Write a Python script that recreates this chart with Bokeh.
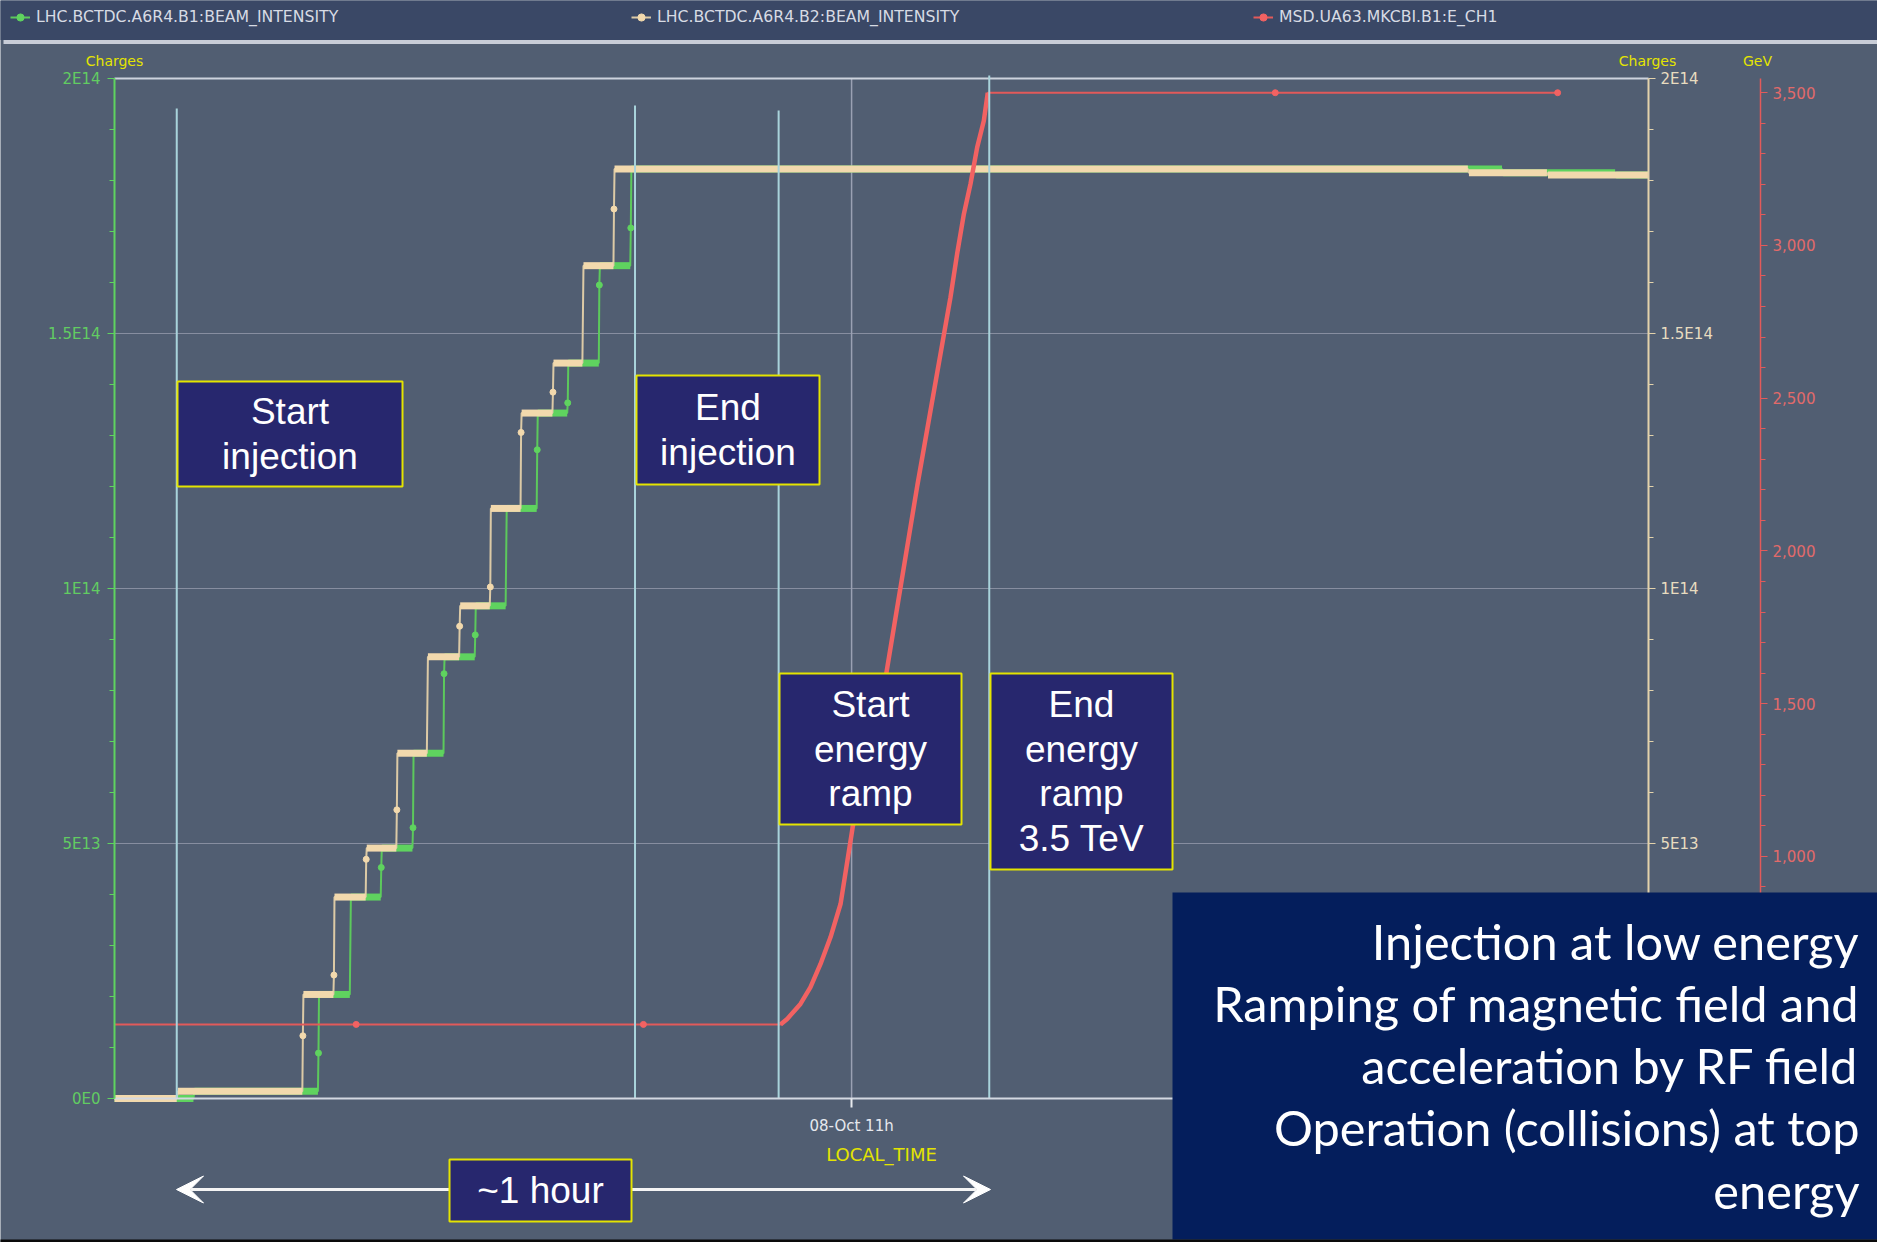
from bokeh.plotting import figure
from bokeh.models import (Range1d, FixedTicker, NumeralTickFormatter, LinearAxis,
                          BoxAnnotation, Label, Arrow, VeeHead, Legend, LegendItem)
from bokeh.embed import file_html
from bokeh.resources import INLINE

# ---------------- data (time = minutes after 08-Oct 10:00, local time) ----------------
window_start, window_end = 5.65, 118.76          # visible time window
b2_jump_times = [10.24, 19.50, 21.79, 24.17, 26.43, 28.68, 31.06, 33.32, 35.59, 37.94, 40.15, 42.44, 105.44, 111.27]
b1_jump_times = [11.47, 20.65, 23.00, 25.28, 27.62, 29.91, 32.21, 34.49, 36.78, 39.03, 41.36, 43.68, 107.96, 116.30]
beam_levels_e12 = [0.0, 1.4, 20.4, 39.5, 49.1, 67.7, 86.6, 96.6, 115.7, 134.4, 144.2, 163.3, 182.25, 181.5, 181.1]
b2_transit_e12 = [None, 12.3, 24.2, 46.9, 56.6, None, 92.6, 100.3, 130.6, 138.5, None, 174.4, None, None]
b1_transit_e12 = [None, 8.9, None, 45.3, 53.1, 83.3, 90.9, None, 127.2, 136.4, 159.5, 170.7, None, None]

energy_time = [5.65, 23.47, 44.65, 54.76, 55.25, 56.23, 56.97, 57.71, 58.45, 59.19, 60.09, 62.56,
               64.85, 67.29, 67.78, 68.28, 68.77, 69.26, 69.75, 70.04, 91.24, 112.06]
energy_gev = [450, 450, 450, 450, 468, 517, 572, 648, 736, 845, 1098, 1599,
              2215, 2830, 2972, 3103, 3202, 3321, 3408, 3500, 3500, 3500]

event_times = [10.24, 44.03, 54.62, 70.15]   # start inj., end inj., start ramp, end ramp

x_ticks = [60]
x_tick_labels = ["08-Oct 11h"]
charge_ticks = [0, 50000000000000, 100000000000000, 150000000000000, 200000000000000]
charge_tick_labels = ["0E0", "5E13", "1E14", "1.5E14", "2E14"]
gev_ticks = [500, 1000, 1500, 2000, 2500, 3000, 3500]
charge_max = 2e14
gev_min, gev_max = 207.5, 3546.5

legend_labels = ["LHC.BCTDC.A6R4.B1:BEAM_INTENSITY",
                 "LHC.BCTDC.A6R4.B2:BEAM_INTENSITY",
                 "MSD.UA63.MKCBI.B1:E_CH1"]
axis_titles = ["Charges", "Charges", "GeV"]
phase_texts = [["Start", "injection"], ["End", "injection"],
               ["Start", "energy", "ramp"], ["End", "energy", "ramp", "3.5 TeV"]]
duration_text = "~1 hour"
summary_lines = ["Injection at low energy", "Ramping of magnetic field and",
                 "acceleration by RF field", "Operation (collisions) at top", "energy"]

# ---------------- layout (pixels of the 1877x1242 canvas) ----------------
W, H = 1877, 1242
PL, PR, PT, PB = 114, 1648, 78, 1098      # plot window on the canvas
kx = (window_end - window_start) / (PR - PL)
ky = charge_max / (PB - PT)
kg = (gev_max - gev_min) / (PB - PT)
def dx(X): return window_start + (X - PL) * kx
def dy(Y): return (PB - Y) * ky

BG = "#515e72"
NAVY_BAR = "#3a4866"
GREEN = "#5fd35f"
TAN = "#f2d9ad"
RED = "#e25a5a"
RED2 = "#f26262"
CYAN = "#a9d3db"
YELLOW = "#e4e400"
BOXFILL = "#27276e"
BIGFILL = "#041e5c"
SMALLFONT = "DejaVu Sans"

p = figure(width=W, height=H, output_backend="svg", toolbar_location=None, title=None,
           x_range=Range1d(dx(0), dx(W)), y_range=Range1d(dy(H), dy(0)),
           min_border=0, background_fill_color=BG, border_fill_color=BG,
           outline_line_color=None)
p.extra_y_ranges = {"gev": Range1d(gev_min - (H - PB) * kg, gev_max + PT * kg)}
p.grid.visible = False

# ---------------- grid and frame lines ----------------
inner = charge_ticks[1:-1]
p.segment(x0=[window_start] * len(inner), y0=inner, x1=[window_end] * len(inner), y1=inner,
          color="#878ea0", line_width=1)
p.segment(x0=x_ticks, y0=[0] * len(x_ticks), x1=x_ticks, y1=[charge_max] * len(x_ticks),
          color="#9aa1b3", line_width=1.5)
p.segment(x0=[window_start], y0=[charge_max], x1=[window_end], y1=[charge_max],
          color="#cdd3dd", line_width=2)

# ---------------- axes ----------------
xa = p.xaxis[0]
xa.fixed_location = 0
xa.bounds = (window_start, window_end)
xa.ticker = FixedTicker(ticks=x_ticks, minor_ticks=[])
xa.major_label_overrides = dict(zip(x_ticks, x_tick_labels))
xa.axis_line_color = "#d3d8e1"
xa.axis_line_width = 2
xa.major_tick_line_color = "#e8eaee"
xa.major_tick_line_width = 2
xa.major_tick_out = 9
xa.major_tick_in = 0
xa.major_label_standoff = 9
xa.major_label_text_color = "#e6e8ee"
xa.major_label_text_font = SMALLFONT
xa.major_label_text_font_size = "15px"
xa.axis_label = "LOCAL_TIME"
xa.axis_label_text_color = YELLOW
xa.axis_label_text_font = SMALLFONT
xa.axis_label_text_font_size = "18px"
xa.axis_label_text_font_style = "normal"
xa.axis_label_standoff = 6

charge_minor = [k * 1e13 for k in range(1, 20) if k % 5]

def style_charge_axis(ax, col, txtcol):
    ax.bounds = (0, charge_max)
    ax.ticker = FixedTicker(ticks=charge_ticks, minor_ticks=charge_minor)
    ax.major_label_overrides = dict(zip(charge_ticks, charge_tick_labels))
    ax.axis_line_color = col
    ax.axis_line_width = 2
    ax.major_tick_line_color = col
    ax.minor_tick_line_color = col
    ax.major_tick_in = 0
    ax.minor_tick_in = 0
    ax.major_tick_out = 7
    ax.minor_tick_out = 5
    ax.major_label_text_color = txtcol
    ax.major_label_text_font = SMALLFONT
    ax.major_label_text_font_size = "15px"

ya = p.yaxis[0]
ya.fixed_location = window_start
style_charge_axis(ya, GREEN, "#62cc62")
ya.major_label_standoff = 7

ax_c = LinearAxis(fixed_location=window_end)
style_charge_axis(ax_c, "#e3d2ab", "#e8dcc0")
ax_c.major_label_standoff = 5
p.add_layout(ax_c, "right")

gev_minor = [v for v in range(300, 3600, 100) if v % 500]
ax_g = LinearAxis(y_range_name="gev", fixed_location=dx(1760), bounds=(gev_min, gev_max),
                  ticker=FixedTicker(ticks=gev_ticks, minor_ticks=gev_minor),
                  formatter=NumeralTickFormatter(format="0,0"))
ax_g.axis_line_color = RED
ax_g.axis_line_width = 1.5
ax_g.major_tick_line_color = RED
ax_g.minor_tick_line_color = RED
ax_g.major_tick_in = 0
ax_g.minor_tick_in = 0
ax_g.major_tick_out = 7
ax_g.minor_tick_out = 5
ax_g.major_label_standoff = 5
ax_g.major_label_text_color = "#e26a6a"
ax_g.major_label_text_font = SMALLFONT
ax_g.major_label_text_font_size = "15px"
p.add_layout(ax_g, "right")

# ---------------- beam intensity series ----------------
JUMP = 0.08
def build_steps(jumps, levels_e12, transit_e12):
    lv = [v * 1e12 for v in levels_e12]
    xs, ys = [window_start], [lv[0]]
    tx, ty = [], []
    for k, t in enumerate(jumps):
        xs.append(t); ys.append(lv[k])
        if transit_e12[k] is not None:
            xs.append(t + JUMP / 2); ys.append(transit_e12[k] * 1e12)
            tx.append(t + JUMP / 2); ty.append(transit_e12[k] * 1e12)
        xs.append(t + JUMP); ys.append(lv[k + 1])
    xs.append(window_end); ys.append(lv[-1])
    bx0 = [window_start] + [t + JUMP for t in jumps]
    bx1 = list(jumps) + [window_end]
    return xs, ys, tx, ty, bx0, bx1, lv

series = {}
for name, jumps, trans, col, thin in [("b1", b1_jump_times, b1_transit_e12, GREEN, "#5cc95c"),
                                      ("b2", b2_jump_times, b2_transit_e12, TAN, "#dccaa6")]:
    xs, ys, tx, ty, bx0, bx1, lv = build_steps(jumps, beam_levels_e12, trans)
    r_line = p.line(xs, ys, line_width=2, color=thin)
    p.segment(x0=bx0, y0=lv, x1=bx1, y1=lv, line_width=7, color=col)
    r_dot = p.scatter(tx, ty, size=6, color=col)
    series[name] = [r_line, r_dot]

# ---------------- energy series ----------------
r_e = p.line(energy_time, energy_gev, y_range_name="gev", line_width=2, color=RED)
ramp_t = [t for t in energy_time if event_times[2] <= t <= event_times[3]]
ramp_g = [g for t, g in zip(energy_time, energy_gev) if event_times[2] <= t <= event_times[3]]
p.line(ramp_t, ramp_g, y_range_name="gev", line_width=4.5, color=RED2)
flat_t = [t for t in energy_time[1:] if not (event_times[2] <= t <= event_times[3])]
flat_g = [g for t, g in zip(energy_time[1:], energy_gev[1:]) if not (event_times[2] <= t <= event_times[3])]
r_edot = p.scatter(flat_t, flat_g, y_range_name="gev", size=6, color=RED2)

# ---------------- event marker lines ----------------
marker_top_ref = [108, 105, 110, 75]
p.segment(x0=event_times, y0=[0] * 4, x1=event_times, y1=[dy(Y) for Y in marker_top_ref],
          color=CYAN, line_width=2)

# ---------------- top legend bar ----------------
p.add_layout(BoxAnnotation(left=dx(-20), right=dx(W + 20), top=dy(-20), bottom=dy(39.5),
                           fill_color=NAVY_BAR, fill_alpha=1, line_alpha=0))
p.add_layout(BoxAnnotation(left=dx(3), right=dx(W + 20), top=dy(39.5), bottom=dy(43.5),
                           fill_color="#c8cdd7", fill_alpha=1, line_alpha=0))

legend_x_ref = [10, 631, 1253]
legend_rends = [series["b1"], series["b2"], [r_e, r_edot]]
LH = 18
for lab, rends, X in zip(legend_labels, legend_rends, legend_x_ref):
    lg = Legend(items=[LegendItem(label=lab, renderers=rends)],
                location=(X, H - (17 + LH / 2)),
                orientation="horizontal", background_fill_alpha=0, border_line_alpha=0,
                padding=0, margin=0, spacing=0, glyph_width=20, glyph_height=LH,
                label_height=LH, label_standoff=6, label_text_color="#d7dbe4",
                label_text_font=SMALLFONT, label_text_font_size="15.7px")
    p.add_layout(lg)

# axis titles
for txt, X in zip(axis_titles, [114, 1647, 1757]):
    p.add_layout(Label(x=dx(X), y=dy(60), text=txt, text_align="center", text_baseline="middle",
                       text_color=YELLOW, text_font=SMALLFONT, text_font_size="14px"))

# ---------------- annotation boxes ----------------
phase_boxes_ref = [(177, 402, 381, 486), (636, 819, 375, 484), (779, 961, 673, 824), (990, 1172, 673, 869)]
LINE_SP = 44.5
def text_box(box, lines):
    l, r, t, b = box
    p.add_layout(BoxAnnotation(left=dx(l), right=dx(r), top=dy(t), bottom=dy(b),
                               fill_color=BOXFILL, fill_alpha=1, line_color=YELLOW,
                               line_alpha=1, line_width=2))
    cxm = (l + r) / 2
    cym = (t + b) / 2
    n = len(lines)
    for i, s in enumerate(lines):
        yc = cym + (i - (n - 1) / 2) * LINE_SP
        p.add_layout(Label(x=dx(cxm), y=dy(yc), text=s, text_align="center",
                           text_baseline="middle", text_color="white",
                           text_font="Liberation Sans", text_font_size="37px"))

for box, lines in zip(phase_boxes_ref, phase_texts):
    text_box(box, lines)

# duration arrow
p.add_layout(Arrow(start=VeeHead(size=27, fill_color="white", line_color="white"),
                   end=VeeHead(size=27, fill_color="white", line_color="white"),
                   x_start=dx(176), y_start=dy(1189), x_end=dx(990), y_end=dy(1189),
                   line_color="#f4f4f4", line_width=3))
text_box((449, 631, 1159, 1221), [duration_text])

# summary panel
p.add_layout(BoxAnnotation(left=dx(1172), right=dx(W + 20), top=dy(892), bottom=dy(1239),
                           fill_color=BIGFILL, fill_alpha=1, line_alpha=0))
summary_baselines_ref = [940, 1002, 1064, 1126, 1189]
for s, Yb in zip(summary_lines, summary_baselines_ref):
    p.add_layout(Label(x=dx(1859), y=dy(Yb), text=s, text_align="right", text_baseline="alphabetic",
                       text_color="white", text_font="Lato", text_font_size="48.7px"))
# bottom dark strip
p.add_layout(BoxAnnotation(left=dx(-20), right=dx(W + 20), top=dy(1239), bottom=dy(H + 20),
                           fill_color="#0a0a0a", fill_alpha=1, line_alpha=0))

open("out.html", "w").write(file_html(p, INLINE))
